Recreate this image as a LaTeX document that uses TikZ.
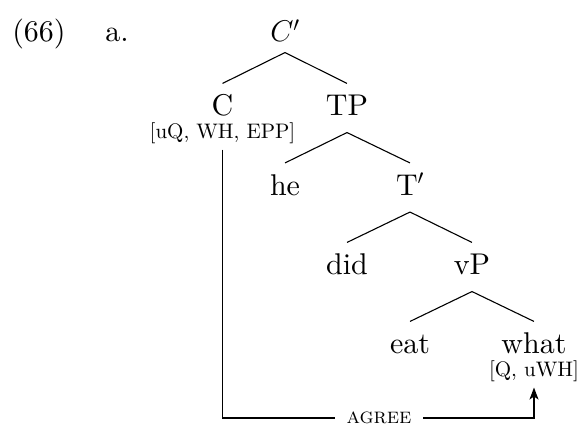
\RequirePackage{fix-cm}
\documentclass[tikz,border=0pt]{standalone}
\usepackage{fontspec}
\setmainfont{lmroman10-regular.otf}[
    ItalicFont=lmroman10-italic.otf,
    BoldFont=lmroman10-bold.otf,
    SmallCapsFont=lmromancaps10-regular.otf]
\usetikzlibrary{arrows.meta}

\begin{document}
\begin{tikzpicture}[x=1pt, y=-1pt, line width=1.1pt,
    cat/.style={font=\fontsize{30}{34}\selectfont, anchor=base,
        text height=22pt, text depth=6pt, inner ysep=10pt, inner xsep=0pt},
    root/.style={cat, text depth=0pt},
    feat/.style={font=\fontsize{21}{24}\selectfont, anchor=base,
        text depth=0pt, inner ysep=10pt, inner xsep=0pt},
    ]
\useasboundingbox (0,0) rectangle (582,427);

\node[cat, inner ysep=0pt] (num) at (39,42) {(66)};
\node[cat, inner ysep=0pt] (lab) at (117,42) {a.};

\node[root] (Cbar) at (285,42) {$C'$};
\node[cat] (C) at (222.5,116) {C};
\node[cat] (TP) at (347,116) {TP};
\node[cat] (he) at (285,195.5) {he};
\node[cat] (Tbar) at (410,195.5) {T$'$};
\node[cat] (did) at (347,275) {did};
\node[cat] (vP) at (472,275) {vP};
\node[cat] (eat) at (410,354) {eat};
\node[cat] (what) at (534,354) {what};

\node[feat] (Cf) at (222.5,139) {[uQ, WH, EPP]};
\node[feat] (whatf) at (534,377) {[Q, uWH]};

\draw (Cbar.south) -- (C.north);
\draw (Cbar.south) -- (TP.north);
\draw (TP.south) -- (he.north);
\draw (TP.south) -- (Tbar.north);
\draw (Tbar.south) -- (did.north);
\draw (Tbar.south) -- (vP.north);
\draw (vP.south) -- (eat.north);
\draw (vP.south) -- (what.north);

% agreement path
\node[font=\fontsize{22}{24}\selectfont, inner xsep=11pt] (agree) at (379,418) {\textsc{agree}};
\draw (Cf.south) |- (agree.west);
\draw[-{Stealth[length=12pt, width=9pt, inset=3pt]}] (agree.east) -| (whatf.south);
\end{tikzpicture}
\end{document}
